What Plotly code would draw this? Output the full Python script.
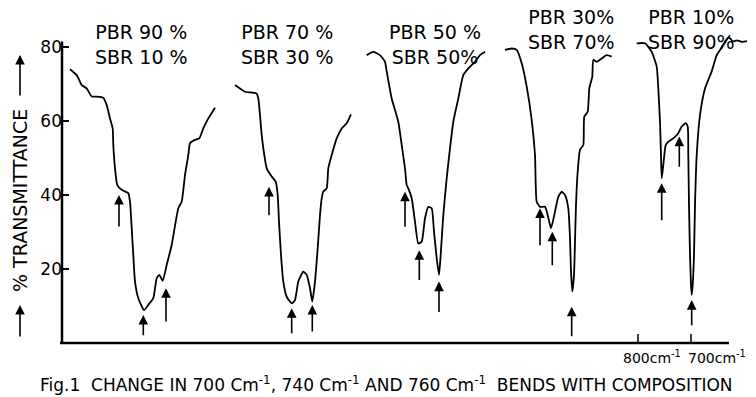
import plotly.graph_objects as go

# ---- data (x = horizontal position along the chart, T = % transmittance)
s1_x = [70, 76.7, 81.7, 86.7, 91.7, 96.7, 103.3, 106.7, 110, 112.7, 113.3, 115, 117.3, 121.7, 128.3, 130, 131.7,
        133.3, 135, 138.3, 144, 148.3, 153.3, 156.7, 159.3, 162.7, 166.7, 171.7, 178.3, 181.7, 185, 188.3, 190,
        195, 199.3, 203.3, 208.3, 215]
s1_t = [74, 72.4, 69.7, 68.8, 66.6, 66.6, 66.3, 64.3, 60.7, 58, 53.5, 47.2, 42.7, 41.4, 40.5, 38.2, 31,
        23.8, 16.6, 12.1, 8.9, 10.3, 12.1, 17.5, 18.4, 16.8, 21.1, 26.5, 36.4, 38.2, 45.4, 50.8, 54,
        54.9, 55.3, 58, 60.7, 63.6]

s2_x = [235, 240, 245, 251.7, 256.7, 258.3, 260, 261.7, 264.3, 266.7, 271.7, 275.7, 277.7, 279, 281, 283.3,
        286.7, 291.7, 295, 298.3, 303.3, 306.7, 310, 312.3, 315, 317.7, 320, 321.7, 323.3, 326.7, 328.3,
        331.7, 336.7, 341.7, 346.7, 351]
s2_t = [69.7, 68.8, 67.9, 67.7, 67.4, 66.1, 61.6, 56.2, 50.8, 47.2, 45, 43.6, 40, 32.8, 23.8, 16.6,
        12.5, 10.7, 11.6, 16.6, 19.3, 18.4, 14.8, 11.2, 16.6, 25.6, 34.6, 39.1, 40.9, 41.8, 47.2,
        50.8, 55.3, 58, 59.4, 61.8]

s3_x = [366.7, 373.3, 380, 385, 386.7, 391.7, 398.3, 401.7, 405, 406.7, 408.3, 411.7, 415, 418.3, 421.7, 425,
        428.3, 431.7, 434, 436.7, 439, 440.7, 443.3, 446.7, 450, 453.3, 458.3, 463.3, 468.3, 475, 480, 485]
s3_t = [77.8, 78.7, 77.8, 76, 73.4, 66.1, 59.8, 53.5, 47.2, 42.7, 41.8, 39.1, 32.8, 26.9, 27.4, 33.7,
        36.8, 36.4, 30.1, 22.9, 18.4, 23.8, 34.6, 44.5, 52.6, 59.8, 66.1, 72.4, 74.2, 76, 77.8, 78.7]

s4_x = [505, 511.7, 516.7, 521.7, 526.7, 531.7, 535, 536.7, 540, 545, 547.7, 551, 554.3, 558.3, 561.7, 565,
        568.3, 570, 571, 572.3, 574, 575, 576, 577.7, 580, 583.3, 584.3, 587.7, 589.3, 592.3, 593.3, 596.7,
        601.7, 606.7, 611.7]
s4_t = [79.2, 79.6, 79.2, 75.6, 69.3, 60.3, 50.8, 38.2, 36.8, 36.8, 34.6, 31, 34.6, 39.5, 40.9, 40,
        36.4, 28.3, 19.3, 13.9, 18.4, 27.4, 37.3, 46.3, 52.2, 53.5, 61.2, 62.5, 68.8, 72, 76.5, 76,
        76.9, 77.8, 77.4]

s5_x = [636.7, 645, 651.7, 656.7, 658.3, 660, 661, 661.7, 663.3, 665.7, 668.3, 673.3, 678.3, 681.7, 685.7,
        687.7, 688.3, 689, 690, 691, 691.7, 692.7, 694, 695, 696.7, 700, 705, 711.7, 716.7, 720, 725, 729,
        733, 737, 742, 747]
s5_t = [81, 81, 78.7, 74.7, 68.8, 59.8, 50.8, 44.5, 48.1, 53.5, 54.4, 55.3, 56.7, 58.5, 59.4,
        58.5, 50.8, 37.3, 23.8, 15.7, 13, 15.7, 23.8, 37.3, 50.8, 61.6, 68.8, 73.4, 77.8, 79.2, 81.5, 82.6,
        81.5, 81.8, 81.4, 81.6]

# band-marking arrows: x position, head T, tail T
arrow_x = [119, 143.3, 166, 269, 291.7, 312.3, 405, 419.3, 439, 540, 552.3, 571.7, 661.7, 679.3, 691.7]
arrow_head = [40.0, 7.6, 14.8, 42.2, 9.4, 10.3, 40.9, 25.1, 16.6, 36.4, 30.1, 9.8, 43.2, 55.8, 11.6]
arrow_tail = [31.1, 1.7, 5.4, 34.1, 2.2, 2.7, 31.0, 16.6, 8.0, 26.0, 20.6, 1.4, 32.8, 47.2, 4.4]

comp_labels = ["PBR 90 %<br>SBR 10 %", "PBR 70 %<br>SBR 30 %", "PBR 50 %<br>SBR 50%",
               "PBR 30%<br>SBR 70%", "PBR 10%<br>SBR 90%"]
y_ticks = [20, 40, 60, 80]
wn_labels = ["800cm<sup>-1</sup>", "700cm<sup>-1</sup>"]
wn_pos = [638, 691]

# ---- layout geometry
W, H = 756, 397
L, B = 50, 50
PW, PH = W - L, H - B
PXU = 3.7  # px per % unit


def px2paper(px):
    return (px - L) / PW


def py2paper(py):
    return (PH - py) / PH


FONT = "DejaVu Sans"
fig = go.Figure()
for xs, ts in [(s1_x, s1_t), (s2_x, s2_t), (s3_x, s3_t), (s4_x, s4_t), (s5_x, s5_t)]:
    fig.add_trace(go.Scatter(x=xs, y=ts, mode="lines",
                             line=dict(color="black", width=1.8, shape="spline", smoothing=0.5),
                             showlegend=False, hoverinfo="skip"))

ann = []
for x, h, t in zip(arrow_x, arrow_head, arrow_tail):
    ann.append(dict(x=x, y=h, ax=x, ay=t, xref="x", yref="y", axref="x", ayref="y",
                    text="", showarrow=True, arrowhead=2, arrowsize=1.2, arrowwidth=1.6,
                    arrowcolor="black", standoff=0, startstandoff=0))

label_pos = [(141, 44), (287, 44), (435, 44), (571, 30), (691, 30)]
for txt, (cx, cy) in zip(comp_labels, label_pos):
    ann.append(dict(x=px2paper(cx), y=py2paper(cy), xref="paper", yref="paper", text=txt,
                    showarrow=False, xanchor="center", yanchor="middle", align="center",
                    font=dict(family=FONT, size=19, color="black")))

# wavenumber scale labels
ann.append(dict(x=683, y=py2paper(346), xref="x", yref="paper", text=wn_labels[0], showarrow=False,
                xanchor="right", yanchor="top", xshift=0,
                font=dict(family=FONT, size=14, color="black")))
ann.append(dict(x=686, y=py2paper(346), xref="x", yref="paper", text=wn_labels[1], showarrow=False,
                xanchor="left", yanchor="top",
                font=dict(family=FONT, size=14, color="black")))

# y axis title with arrows
ann.append(dict(x=px2paper(20), y=py2paper(201), xref="paper", yref="paper", text="% TRANSMITTANCE",
                textangle=-90, showarrow=False, xanchor="center", yanchor="middle",
                font=dict(family=FONT, size=19, color="black")))
ann.append(dict(x=px2paper(20), y=py2paper(55), ax=0, ay=42,
                xref="paper", yref="paper", text="", showarrow=True,
                arrowhead=2, arrowsize=1.2, arrowwidth=1.6, arrowcolor="black"))
ann.append(dict(x=px2paper(20), y=py2paper(305), ax=0, ay=33,
                xref="paper", yref="paper", text="", showarrow=True,
                arrowhead=2, arrowsize=1.2, arrowwidth=1.6, arrowcolor="black"))

# caption
ann.append(dict(x=px2paper(386), y=py2paper(384), xref="paper", yref="paper",
                text="Fig.1&nbsp;&nbsp;CHANGE IN 700 Cm<sup>-1</sup>, 740 Cm<sup>-1</sup> AND 760 Cm<sup>-1</sup>&nbsp;&nbsp;BENDS WITH COMPOSITION",
                showarrow=False, xanchor="center", yanchor="middle",
                font=dict(family=FONT, size=17, color="black")))

shapes = [
    dict(type="line", xref="x", yref="y", x0=62, x1=62, y0=0, y1=81.5, line=dict(color="black", width=2.5)),
    dict(type="line", xref="x", yref="y", x0=60, x1=729, y0=0, y1=0, line=dict(color="black", width=2.5)),
]
for p in wn_pos:
    shapes.append(dict(type="line", xref="x", yref="y", x0=p, x1=p, y0=0, y1=2.4,
                       line=dict(color="black", width=1.5)))

fig.update_layout(
    width=W, height=H, margin=dict(l=L, r=0, t=0, b=B),
    paper_bgcolor="white", plot_bgcolor="white",
    xaxis=dict(range=[L, W], visible=False, domain=[0, 1]),
    yaxis=dict(range=[-(PH - 343) / PXU, 343 / PXU], tickvals=y_ticks, ticks="inside", ticklen=6,
               tickwidth=2, tickcolor="black", showline=False, showgrid=False, zeroline=False,
               anchor="free", position=px2paper(62),
               tickfont=dict(family=FONT, size=17, color="black")),
    annotations=ann, shapes=shapes, showlegend=False,
)

fig.write_html("out.html")
